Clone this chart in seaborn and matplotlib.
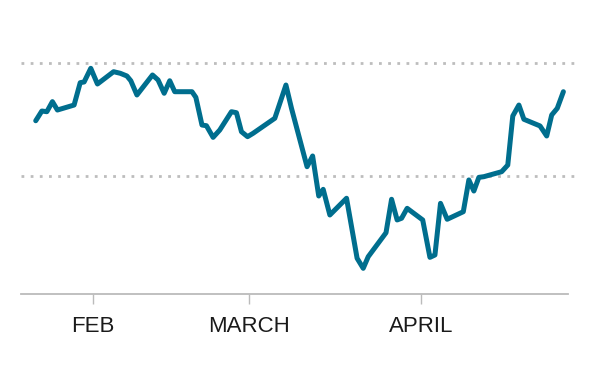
import matplotlib
matplotlib.use("Agg")
import matplotlib.pyplot as plt
import seaborn as sns
import pandas as pd
import numpy as np

# Day of year (Jan 1 = 0) and index level
days = [20.7, 21.8, 22.7, 23.7, 24.6, 27.6, 28.7, 29.4, 30.6, 31.8,
        34.7, 35.9, 37.1, 37.8, 38.9, 41.7, 42.7, 43.8, 44.8, 45.7,
        48.8, 49.5, 50.6, 51.4, 52.6, 53.8, 55.9, 56.8, 57.7, 58.8,
        59.8, 63.7, 65.7, 66.7, 69.5, 70.5, 71.6, 72.4, 73.6, 76.6,
        78.5, 79.6, 80.5, 83.7, 84.7, 85.7, 86.5, 87.5, 90.3, 91.6,
        92.5, 93.5, 94.7, 97.6, 98.6, 99.5, 100.4, 101.3, 104.5, 105.6,
        106.5, 107.6, 108.5, 111.4, 112.6, 113.5, 114.5, 115.6]
values = [2748.9, 2757.5, 2756.9, 2765.8, 2758.4, 2762.8, 2782.6, 2783.2, 2795.3, 2781.4,
          2792.3, 2790.9, 2788.5, 2784.3, 2771.7, 2789.4, 2785.0, 2773.2, 2784.3, 2774.6,
          2774.6, 2769.6, 2745.1, 2744.5, 2734.2, 2740.7, 2756.9, 2756.0, 2739.2, 2734.8,
          2737.8, 2751.1, 2780.5, 2759.9, 2708.2, 2717.7, 2682.3, 2688.2, 2665.5, 2680.3,
          2627.2, 2618.3, 2628.6, 2649.8, 2679.4, 2661.1, 2662.6, 2671.4, 2661.1, 2628.0,
          2630.1, 2675.8, 2661.7, 2668.4, 2696.5, 2686.7, 2698.8, 2699.4, 2703.8, 2709.7,
          2753.1, 2762.8, 2750.2, 2744.3, 2735.4, 2754.0, 2759.9, 2774.6]

tick_days = [31, 59, 90]
tick_labels = ["FEB", "MARCH", "APRIL"]
grid_levels = [2700, 2800]

df = pd.DataFrame({"day": days, "value": values})

sns.set_style("white")
plt.rcParams["font.family"] = ["Liberation Sans", "DejaVu Sans"]

fig = plt.figure(figsize=(6.1, 3.89), dpi=100)
ax = fig.add_axes([21/610, (389-293.5)/389, (575-21)/610, (293.5-30)/389])

for g in grid_levels:
    ax.axhline(g, color="#bdbdbd", lw=2.0, linestyle=(0, (1, 2.3)), zorder=1)

sns.lineplot(data=df, x="day", y="value", ax=ax, color="#006e8e", lw=3.6,
             solid_joinstyle="round", solid_capstyle="round", zorder=3)

px_per_day = 5.56
ax.set_xlim(31 + (21-93)/px_per_day, 31 + (575-93)/px_per_day)
ax.set_ylim(2700 - 117.5*100/113, 2700 + 146*100/113)

for s in ["top", "right", "left"]:
    ax.spines[s].set_visible(False)
ax.spines["bottom"].set_color("#bbbbbb")
ax.spines["bottom"].set_linewidth(1.3)
ax.spines["bottom"].set_bounds(31 + (21-93)/px_per_day, 31 + (568-93)/px_per_day)

ax.set_xticks(tick_days)
ax.set_xticklabels(tick_labels)
ax.set_yticks([])
ax.tick_params(axis="x", bottom=True, length=7, width=1, color="#bbbbbb",
               pad=9, labelsize=16, labelcolor="#1a1a1a")
ax.set_xlabel("")
ax.set_ylabel("")

fig.savefig("out.png", dpi=100)
